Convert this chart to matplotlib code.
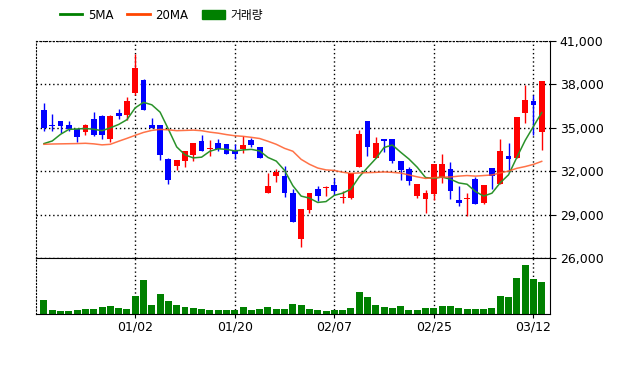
import numpy as np
import matplotlib.pyplot as plt
from matplotlib.lines import Line2D
from matplotlib.patches import Patch
from matplotlib.ticker import FuncFormatter

plt.rcParams['font.family'] = ['DejaVu Sans', 'Noto Sans CJK KR']

# trading days 2019-12-13 .. 2020-03-13
dates = ['12/13', '12/16', '12/17', '12/18', '12/19', '12/20', '12/23', '12/24', '12/26', '12/27', '12/30',
         '01/02', '01/03', '01/06', '01/07', '01/08', '01/09', '01/10', '01/13', '01/14', '01/15', '01/16',
         '01/17', '01/20', '01/21', '01/22', '01/23', '01/28', '01/29', '01/30', '01/31', '02/03', '02/04',
         '02/05', '02/06', '02/07', '02/10', '02/11', '02/12', '02/13', '02/14', '02/17', '02/18', '02/19',
         '02/20', '02/21', '02/24', '02/25', '02/26', '02/27', '02/28', '03/02', '03/03', '03/04', '03/05',
         '03/06', '03/09', '03/10', '03/11', '03/12', '03/13']
tick_labels = ['01/02', '01/20', '02/07', '02/25', '03/12']

opens = np.array([36250, 35160, 35500, 35160, 34930, 34700, 35640, 35840, 34200, 36050,
                  35910, 37430, 38300, 35160, 35160, 32840, 32390, 32730, 33110, 34070,
                  33500, 33980, 33910, 33410, 33520, 34140, 33660, 30520, 31700, 31700,
                  30520, 27320, 29320, 30800, 30860, 31070, 30160, 30180, 32270, 35500,
                  32890, 34250, 34250, 32700, 32160, 30270, 30070, 30450, 31570, 32160,
                  29980, 30070, 31480, 29770, 32230, 31140, 33020, 32930, 36020, 36860,
                  34700])
highs = np.array([36700, 35980, 35500, 35500, 34930, 35270, 36110, 35910, 35910, 36300,
                  37160, 40080, 38360, 35680, 35160, 32890, 32770, 33390, 33930, 34520,
                  34140, 34200, 33910, 33860, 34430, 34300, 33700, 31890, 32160, 32340,
                  30800, 29360, 30520, 30980, 30950, 31520, 30640, 31890, 34840, 35500,
                  34390, 34250, 34250, 32700, 32270, 31140, 30680, 32500, 33180, 32610,
                  31000, 30500, 31590, 31070, 32230, 34200, 33980, 35750, 37950, 37270,
                  38230])
lows = np.array([34770, 34770, 34660, 34770, 34020, 34480, 34430, 34200, 34020, 35640,
                 35520, 37300, 36200, 35000, 32800, 31140, 32070, 32320, 32730, 33410,
                 33070, 33410, 33160, 32840, 33250, 33700, 32900, 30520, 31250, 30230,
                 28480, 26770, 29090, 29930, 30270, 30340, 29770, 30110, 32270, 33070,
                 32890, 33340, 32570, 31360, 31070, 30180, 29090, 30000, 31200, 30110,
                 29590, 28930, 29730, 29730, 30800, 31140, 31930, 32930, 35300, 34480,
                 33480])
closes = np.array([35000, 35100, 35110, 34950, 34360, 35200, 34480, 34480, 35840, 35800,
                   36840, 39110, 36200, 35000, 33140, 31360, 32770, 33390, 33930, 33410,
                   33520, 33520, 33180, 33180, 33840, 33800, 32930, 31000, 31930, 30520,
                   28480, 29360, 30520, 30270, 30890, 30610, 30230, 31890, 34550, 33680,
                   33980, 34090, 32730, 32090, 31300, 31140, 30520, 32500, 32500, 30610,
                   29800, 30110, 29730, 31070, 31700, 33390, 32840, 35750, 36930, 36550,
                   38230])
ma5 = np.array([33910, 34090, 34550, 34890, 34920, 34950, 34900, 34800, 35000, 35230,
                35560, 36380, 36760, 36590, 36080, 34900, 33680, 33130, 32920, 32970,
                33380, 33550, 33510, 33400, 33470, 33510, 33400, 32950, 32700, 32060,
                31000, 30280, 30140, 29840, 29900, 30330, 30480, 30760, 31610, 32250,
                32870, 33640, 33810, 33310, 32840, 32270, 31560, 31510, 31590, 31450,
                31190, 31100, 30600, 30280, 30480, 31200, 31750, 32950, 34120, 35090,
                36050])
ma20 = np.array([33860, 33880, 33890, 33900, 33910, 33930, 33890, 33820, 33860, 34070,
                 34270, 34480, 34680, 34820, 34890, 34860, 34800, 34820, 34840, 34800,
                 34700, 34630, 34530, 34450, 34410, 34340, 34260, 34070, 33860, 33580,
                 33380, 32820, 32480, 32220, 32090, 32050, 31930, 31850, 31880, 31900,
                 31920, 31950, 31920, 31870, 31740, 31610, 31500, 31560, 31590, 31600,
                 31660, 31700, 31660, 31700, 31740, 31880, 32010, 32200, 32320, 32470,
                 32680])
volume = np.array([143, 43, 33, 33, 43, 53, 53, 73, 83, 63, 53,
                   183, 343, 93, 203, 133, 93, 73, 63, 53, 43,
                   43, 43, 43, 73, 43, 53, 73, 53, 53, 103,
                   93, 53, 43, 33, 43, 43, 63, 223, 173, 93,
                   73, 63, 83, 43, 43, 63, 63, 83, 83, 63,
                   53, 53, 53, 63, 183, 173, 363, 493, 353, 323])

x = np.arange(len(dates))
colors = np.where(closes >= opens, '#FF0000', '#0000FF')
dot = (0, (1, 2))

fig = plt.figure(figsize=(6.4, 3.68), dpi=100)
ax = fig.add_axes([36 / 640, 110 / 368, 514 / 640, 217 / 368])
axv = fig.add_axes([36 / 640, 54 / 368, 514 / 640, 56 / 368], sharex=ax)

# candles
ax.vlines(x, lows, highs, colors=colors, lw=1, zorder=2)
ax.bar(x, np.maximum(np.abs(closes - opens), 70), bottom=np.minimum(opens, closes),
       width=0.7, color=colors, linewidth=0, zorder=2)
ax.plot(x, ma5, color='#2A922A', lw=1.1, zorder=3)
ax.plot(x, ma20, color='#FF5A28', lw=1.1, alpha=0.85, zorder=3)

ax.set_xlim(-0.96, 61.0)
ax.set_ylim(26000, 41000)
ax.set_yticks(np.arange(26000, 41001, 3000))
ax.yaxis.tick_right()
ax.yaxis.set_major_formatter(FuncFormatter(lambda v, p: f'{int(v):,}'))
ax.tick_params(axis='y', length=4, labelsize=9, pad=3)
ax.tick_params(axis='x', length=0, labelbottom=False)
ax.set_xticks([dates.index(d) for d in tick_labels])
ax.grid(True, color='black', linestyle=dot, lw=1)
ax.set_axisbelow(True)
for s in ['left', 'top']:
    ax.spines[s].set_linestyle(dot)

# volume
axv.bar(x, volume, width=0.84, color='#008000', linewidth=0)
axv.set_ylim(0, 560)
axv.set_yticks([])
axv.set_xticks([dates.index(d) for d in tick_labels])
axv.set_xticklabels(tick_labels)
axv.tick_params(axis='x', length=3, labelsize=9, pad=2)
axv.grid(True, axis='x', color='black', linestyle=dot, lw=1)
axv.set_axisbelow(True)
axv.spines['left'].set_linestyle(dot)

handles = [Line2D([], [], color='#008000', lw=2),
           Line2D([], [], color='#FF4500', lw=2),
           Patch(color='#008000')]
fig.legend(handles, ['5MA', '20MA', '거래량'], loc='center left',
           bbox_to_anchor=(0.077, 0.959), ncol=3, frameon=False, fontsize=8.5,
           handlelength=1.9, handletextpad=0.45, columnspacing=1.2)

plt.savefig('out.png', dpi=100)
